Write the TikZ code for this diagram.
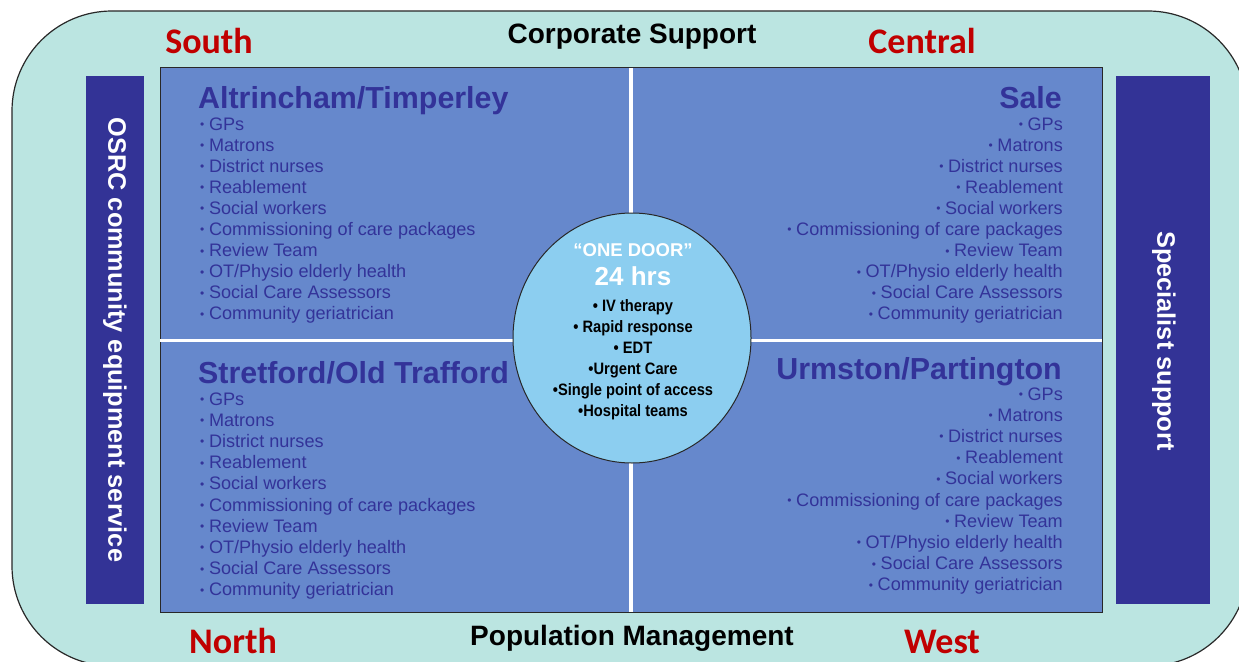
\documentclass[tikz,border=0pt]{standalone}
\usepackage{fontspec}
\setmainfont{Liberation Sans}
\newfontfamily\calibrifont{Carlito}
\newfontfamily\narrowfont[FakeStretch=0.89]{Liberation Sans}
\usetikzlibrary{
  positioning,
}

\definecolor{bgteal}{RGB}{187,229,225}
\definecolor{quadblue}{RGB}{102,136,204}
\definecolor{barblue}{RGB}{51,51,150}
\definecolor{textblue}{RGB}{51,51,153}
\definecolor{discblue}{RGB}{140,206,240}
\definecolor{areared}{RGB}{192,0,0}
\definecolor{framegray}{RGB}{40,40,40}

\tikzset{
  teamitem/.style={font=\fontsize{18.1}{20}\selectfont, text=textblue, inner sep=0pt},
  areahead/.style={font=\bfseries\fontsize{30.4}{32}\selectfont, text=textblue, inner sep=0pt},
  compass/.style={font=\calibrifont\bfseries\fontsize{36}{40}\selectfont, text=areared, inner sep=0pt, anchor=base},
  bandtext/.style={font=\bfseries\fontsize{28}{30}\selectfont, inner sep=0pt, anchor=base},
  sidebar/.style={fill=barblue, draw=none},
  sidetext/.style={font=\bfseries\fontsize{25.3}{28}\selectfont, text=white, rotate=-90, inner sep=0pt},
  discitem/.style={font=\narrowfont\bfseries\fontsize{16.5}{18}\selectfont, inner sep=0pt, anchor=base},
}

\def\teamlist{GPs, Matrons, District nurses, Reablement, Social workers,
  Commissioning of care packages, Review Team, OT/Physio elderly health,
  Social Care Assessors, Community geriatrician}
\newcommand\teambullet{\raisebox{1.6pt}{\fontsize{12}{12}\selectfont\textbullet}\hspace{4.6pt}}

\begin{document}
\begin{tikzpicture}[x=1pt,y=-1pt]
\useasboundingbox (0,0) rectangle (1239,661);
\clip (0,0) rectangle (1239,661);

% outer frame
\draw[fill=bgteal, draw=framegray, line width=1.2pt, rounded corners=100pt]
  (12,11) rectangle (1248,666);

% side bars
\path[sidebar] (86,76) rectangle (144,604);
\path[sidebar] (1116,76) rectangle (1210,604);
\node[sidetext] (osrc) at (115,340) {OSRC community equipment service};
\node[sidetext] (spec) at (1164,341) {Specialist support};

% quadrants
\draw[fill=quadblue, draw=framegray, line width=1pt] (160,68) rectangle (1102,612);
\draw[white, line width=3.5pt] (160,340.5) -- (1102,340.5);
\draw[white, line width=3.5pt] (631,68) -- (631,612);

% compass labels
\node[compass] (south) at (209,53) {South};
\node[compass] (central) at (922,53) {Central};
\node[compass] (north) at (233,653) {North};
\node[compass] (west) at (942,653) {West};
\node[bandtext] (corp) at (632,44) {Corporate Support};
\node[bandtext] (popm) at (632,645) {Population Management};

% area headings
\node[areahead, anchor=base west] (alt) at (198,108) {Altrincham/Timperley};
\node[areahead, anchor=base east] (sale) at (1062,108) {Sale};
\node[areahead, anchor=base west] (stret) at (198,383) {Stretford/Old Trafford};
\node[areahead, anchor=base east] (urm) at (1062,379) {Urmston/Partington};

% team lists
\foreach \t [count=\i from 0] in \teamlist {
  \node[teamitem, anchor=base west] (tl\i) at (200,130+21.1*\i) {\teambullet\t};
  \node[teamitem, anchor=base east] (tr\i) at (1063,130+21.1*\i) {\teambullet\t};
  \node[teamitem, anchor=base west] (bl\i) at (200,405+21.2*\i) {\teambullet\t};
  \node[teamitem, anchor=base east] (br\i) at (1063,400+21.2*\i) {\teambullet\t};
}

% one door
\draw[fill=discblue, draw=framegray, line width=1pt] (632,338) ellipse [x radius=119, y radius=125];
\node[discitem, text=white, font=\bfseries\fontsize{18.5}{20}\selectfont] (door) at (633,256.5) {``ONE DOOR''};
\node[discitem, text=white, font=\bfseries\fontsize{26}{28}\selectfont] (hrs) at (633,285) {24 hrs};
\foreach \t/\y in {\textbullet\ IV therapy/311.5, \textbullet\ Rapid response/332,
  \textbullet\ EDT/353, \textbullet Urgent Care/374,
  \textbullet Single point of access/395, \textbullet Hospital teams/416}
  \node[discitem] at (633,\y) {\t};
\end{tikzpicture}
\end{document}
